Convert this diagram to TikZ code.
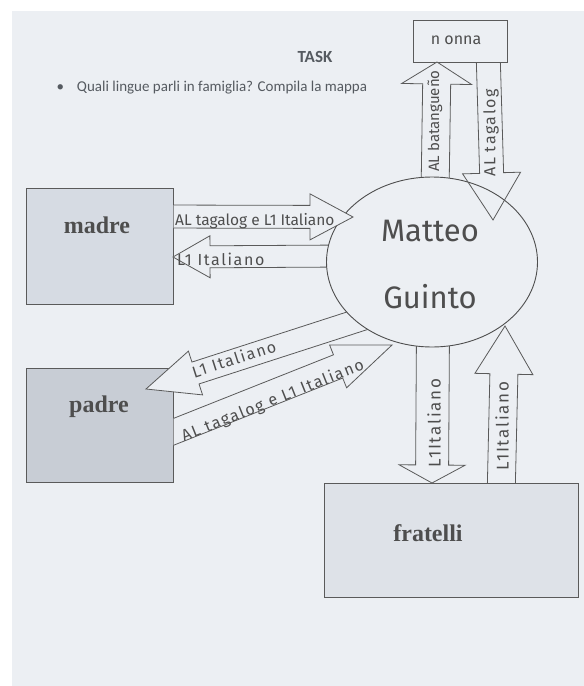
\documentclass[tikz,border=0pt]{standalone}
\usepackage{fontspec}
\setmainfont{Liberation Serif}
\newfontfamily\calib{Carlito}
\newfontfamily\hand{Fira Sans}
\newfontfamily\handsp{Fira Sans}[LetterSpace=10]
\usetikzlibrary{calc,shapes.geometric}
\definecolor{paper}{HTML}{ECEFF3}
\definecolor{madrefill}{HTML}{D6DBE3}
\definecolor{padrefill}{HTML}{C8CDD5}
\definecolor{fratfill}{HTML}{DEE2E8}
\definecolor{penc}{HTML}{5A5A5A}
\definecolor{ink}{HTML}{4E4E4E}
\definecolor{printink}{HTML}{555A60}
\newcommand\blockarr[6]{% style, tail, tip, half shaft, half head, head length
  \coordinate (hb) at ($(#3)!#6!(#2)$);
  \draw[#1] ($(#2)!#4!90:(#3)$) -- ($(hb)!#4!-90:(#2)$) -- ($(hb)!#5!-90:(#2)$)
    -- (#3) -- ($(hb)!#5!90:(#2)$) -- ($(hb)!#4!90:(#2)$) -- ($(#2)!#4!-90:(#3)$) -- cycle;}
\begin{document}
\begin{tikzpicture}[x=1pt,y=-1pt,
  famblock/.style={draw=penc, line width=1pt, inner sep=0pt},
  arr/.style={draw=penc, line width=0.8pt, fill=paper, line join=miter},
  arrnofill/.style={draw=penc, line width=0.8pt, line join=miter},
  lab/.style={text=ink, inner sep=0pt},
  vlab/.style={lab, rotate=90},
  boxtext/.style={text=ink, font=\bfseries\fontsize{24}{24}\selectfont, inner sep=0pt},
  bigname/.style={text=ink, font=\hand\fontsize{31}{31}\selectfont, inner sep=0pt}]
\useasboundingbox (0,0) rectangle (584,686);
\fill[white] (0,0) rectangle (584,686);
\fill[paper] (12,11) rectangle (584,686);

% header
\node[text=printink, font=\calib\bfseries\fontsize{17}{17}\selectfont] (task) at (315,57) {TASK};
\node[text=printink, font=\calib\fontsize{15}{15}\selectfont, anchor=west] (q) at (53,88)
  {\textbullet\hspace{13pt}Quali lingue parli in famiglia? Compila la mappa};

% boxes
\node[famblock, fill=madrefill, minimum width=147pt, minimum height=116pt] (madre) at (99.5,246) {};
\node[famblock, fill=padrefill, minimum width=147pt, minimum height=114pt] (padre) at (99.5,425) {};
\node[famblock, fill=fratfill, minimum width=254pt, minimum height=114pt] (fratelli) at (451,540) {};
\node[famblock, fill=paper, line width=0.9pt, minimum width=94pt, minimum height=42pt] (nonna) at (460,41) {};

% arrows leaving Matteo (tails hidden under the ellipse)
\coordinate (nuT) at (435,195); \coordinate (nuP) at (437,62);
\blockarr{arr}{nuT}{nuP}{14pt}{35pt}{22pt}
\coordinate (mlT) at (345,256); \coordinate (mlP) at (173,257);
\blockarr{arr}{mlT}{mlP}{11pt}{21pt}{37pt}
\coordinate (mpT) at (375,315); \coordinate (mpP) at (146,389);
\blockarr{arr}{mpT}{mpP}{11.5pt}{23pt}{52pt}
\coordinate (fdT) at (433,330); \coordinate (fdP) at (432,483);
\blockarr{arr}{fdT}{fdP}{16.5pt}{33pt}{18pt}

% Matteo
\node[ellipse, draw=ink, line width=0.9pt, fill=paper, minimum width=211pt, minimum height=170pt] (matteo) at (432,262) {};

% arrows reaching Matteo (tails clipped at the boxes)
\begin{scope}
  \clip (173.6,0) rectangle (584,686);
  \coordinate (mrT) at (160,216.5); \coordinate (mrP) at (353,217);
  \blockarr{arr}{mrT}{mrP}{11.5pt}{23pt}{43pt}
  \coordinate (pmT) at (158,438); \coordinate (pmP) at (392,345);
  \blockarr{arr}{pmT}{pmP}{12.5pt}{23pt}{58pt}
\end{scope}
\begin{scope}
  \clip (0,0) rectangle (584,482.4);
  \coordinate (fuT) at (501,500); \coordinate (fuP) at (505,326);
  \blockarr{arr}{fuT}{fuP}{14pt}{29pt}{48pt}
\end{scope}
\begin{scope}
  \clip (0,62.6) rectangle (584,686);
  \coordinate (ndT) at (488,50); \coordinate (ndP) at (493,220);
  \blockarr{arrnofill}{ndT}{ndP}{12pt}{29pt}{47pt}
\end{scope}

% texts
\node[boxtext] (madretxt) at (97,225) {madre};
\node[boxtext] (padretxt) at (99,407) {padre};
\node[boxtext] (frattxt) at (428,533) {fratelli};
\node[lab, font=\hand\fontsize{16}{16}\selectfont] (nonnatxt) at (456,40) {n onna};
\node[bigname] (m1) at (430,231) {Matteo};
\node[bigname] (m2) at (430,297) {Guinto};

\node[lab, font=\hand\fontsize{15.5}{15.5}\selectfont, anchor=west] (l1) at (175,221) {AL tagalog e L1 Italiano};
\node[lab, font=\handsp\fontsize{16}{16}\selectfont, anchor=west] (l2) at (177,259) {L1 Italiano};
\node[lab, font=\handsp\fontsize{16}{16}\selectfont, rotate=17.7] (l3) at (234,359) {L1 Italiano};
\node[lab, font=\handsp\fontsize{16}{16}\selectfont, rotate=21.7] (l4) at (273,401) {AL tagalog e L1 Italiano};
\node[vlab, font=\hand\fontsize{15}{15}\selectfont] (l5) at (435,121) {AL batangueño};
\node[vlab, font=\handsp\fontsize{16}{16}\selectfont] (l6) at (491,133) {AL tagalog};
\node[vlab, font=\handsp\fontsize{17}{17}\selectfont] (l7) at (434,423) {L1Italiano};
\node[vlab, font=\handsp\fontsize{17}{17}\selectfont] (l8) at (502,426) {L1Italiano};
\end{tikzpicture}
\end{document}
